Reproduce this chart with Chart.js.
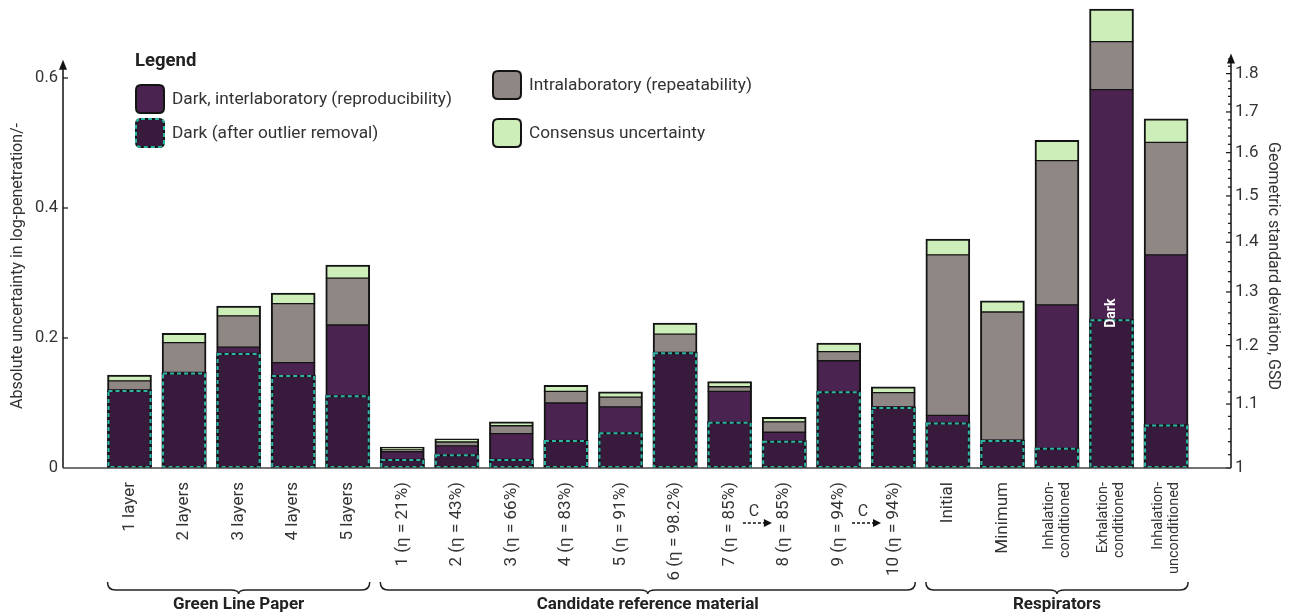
<!DOCTYPE html>
<html>
<head>
<meta charset="utf-8">
<title>Uncertainty components in log-penetration</title>
<script src="https://cdn.jsdelivr.net/npm/chart.js@4.4.1/dist/chart.umd.min.js"></script>
<style>
  html, body { margin: 0; padding: 0; background: #ffffff; overflow: hidden; }
  #wrap { width: 1291px; height: 615px; position: relative; }
</style>
</head>
<body>
<div id="wrap"><canvas id="chart" width="1291" height="615"></canvas></div>
<script>
// ---- categories and groups ----
const categories = [
  '1 layer', '2 layers', '3 layers', '4 layers', '5 layers',
  '1 (η = 21%)', '2 (η = 43%)', '3 (η = 66%)', '4 (η = 83%)', '5 (η = 91%)',
  '6 (η = 98.2%)', '7 (η = 85%)', '8 (η = 85%)', '9 (η = 94%)', '10 (η = 94%)',
  'Initial', 'Minimum',
  ['Inhalation-', 'conditioned'], ['Exhalation-', 'conditioned'], ['Inhalation-', 'unconditioned']
];
const groupNames = ['Green Line Paper', 'Candidate reference material', 'Respirators'];
const groupFirst = [0, 5, 15];
const groupLast = [4, 14, 19];
// conditioning steps: "C" arrow from one sample to the next
const conditionedPairs = [[11, 12], [13, 14]];

// ---- uncertainty components (log-penetration) ----
const darkInterlab   = [0.120, 0.147, 0.186, 0.162, 0.220, 0.025, 0.034, 0.053, 0.100, 0.094,
                        0.178, 0.118, 0.055, 0.165, 0.094, 0.081, 0.043, 0.251, 0.582, 0.328];
const intralab       = [0.014, 0.046, 0.048, 0.091, 0.072, 0.003, 0.006, 0.012, 0.018, 0.015,
                        0.028, 0.007, 0.016, 0.014, 0.022, 0.247, 0.197, 0.222, 0.074, 0.173];
const consensus      = [0.009, 0.014, 0.015, 0.016, 0.020, 0.004, 0.005, 0.006, 0.009, 0.008,
                        0.017, 0.008, 0.007, 0.013, 0.009, 0.024, 0.017, 0.031, 0.050, 0.036];
const darkNoOutliers = [0.120, 0.147, 0.177, 0.143, 0.112, 0.014, 0.021, 0.014, 0.043, 0.055,
                        0.178, 0.071, 0.042, 0.118, 0.094, 0.070, 0.043, 0.031, 0.229, 0.067];

// ---- axis ticks ----
const leftTicks = [0, 0.2, 0.4, 0.6];
const gsdTicks = [1, 1.1, 1.2, 1.3, 1.4, 1.5, 1.6, 1.7, 1.8];
const gsdMinorStep = 0.02;
const gsdMinorMax = 1.84;

// ---- colours ----
const C_DARK = '#4a2350';
const C_DARK_NO = '#381b3c';
const C_INTRA = '#8e8784';
const C_CONS = '#ceeeb9';
const C_TEAL = '#2bb5a2';
const C_EDGE = '#141414';
const C_TEXT = '#333333';

Chart.defaults.font.family = 'Roboto, "Noto Sans", sans-serif';
Chart.defaults.color = C_TEXT;

// floating segments stacked on top of each other
const segDark = darkInterlab.map((v, i) => ({ x: i, y: [0, v] }));
const segIntra = darkInterlab.map((v, i) => ({ x: i, y: [v, v + intralab[i]] }));
const segCons = darkInterlab.map((v, i) => ({ x: i, y: [v + intralab[i], v + intralab[i] + consensus[i]] }));
const segNoOut = darkNoOutliers.map((v, i) => ({ x: i, y: [0, v] }));

const barCommon = { grouped: false, barThickness: 44, borderSkipped: false, borderColor: C_EDGE };

function drawBrace(ctx, x0, x1, yTop, yMid) {
  const xc = (x0 + x1) / 2, r = 8;
  ctx.beginPath();
  ctx.moveTo(x0, yTop);
  ctx.quadraticCurveTo(x0, yMid, x0 + r, yMid);
  ctx.lineTo(xc - r, yMid);
  ctx.quadraticCurveTo(xc, yMid, xc, yMid + 4);
  ctx.quadraticCurveTo(xc, yMid, xc + r, yMid);
  ctx.lineTo(x1 - r, yMid);
  ctx.quadraticCurveTo(x1, yMid, x1, yTop);
  ctx.stroke();
}

function roundRect(ctx, x, y, w, h, r) {
  ctx.beginPath();
  ctx.moveTo(x + r, y);
  ctx.lineTo(x + w - r, y);
  ctx.quadraticCurveTo(x + w, y, x + w, y + r);
  ctx.lineTo(x + w, y + h - r);
  ctx.quadraticCurveTo(x + w, y + h, x + w - r, y + h);
  ctx.lineTo(x + r, y + h);
  ctx.quadraticCurveTo(x, y + h, x, y + h - r);
  ctx.lineTo(x, y + r);
  ctx.quadraticCurveTo(x, y, x + r, y);
  ctx.closePath();
}

function swatch(ctx, x, y, fill, dashed) {
  const w = 28, h = 28;
  roundRect(ctx, x, y, w, h, 5);
  ctx.fillStyle = fill;
  ctx.fill();
  ctx.lineWidth = 2;
  ctx.strokeStyle = C_EDGE;
  ctx.setLineDash([]);
  ctx.stroke();
  if (dashed) {
    ctx.strokeStyle = C_TEAL;
    ctx.setLineDash([4, 3]);
    ctx.stroke();
    ctx.setLineDash([]);
  }
}

function arrowHead(ctx, tipX, tipY, dir, len, half) {
  ctx.beginPath();
  if (dir === 'up') {
    ctx.moveTo(tipX, tipY);
    ctx.lineTo(tipX - half, tipY + len);
    ctx.lineTo(tipX + half, tipY + len);
  } else {
    ctx.moveTo(tipX, tipY);
    ctx.lineTo(tipX - len, tipY - half);
    ctx.lineTo(tipX - len, tipY + half);
  }
  ctx.closePath();
  ctx.fill();
}

// keep the plot area flush with the canvas edges chosen below
function noScalePadding(s) {
  s.paddingTop = 0; s.paddingBottom = 0; s.paddingLeft = 0; s.paddingRight = 0;
}

const decor = {
  id: 'decor',
  afterDatasetsDraw(chart) {
    const ctx = chart.ctx;
    // dashed outline of the outlier-free dark bars
    const meta = chart.getDatasetMeta(0);
    meta.data.forEach((bar) => {
      const p = bar.getProps(['x', 'y', 'base', 'width'], true);
      const left = p.x - p.width / 2;
      const top = Math.min(p.y, p.base), bottom = Math.max(p.y, p.base);
      ctx.save();
      ctx.lineWidth = 2;
      ctx.strokeStyle = C_EDGE;
      ctx.strokeRect(left + 1, top + 1, p.width - 2, bottom - top - 2);
      ctx.strokeStyle = C_TEAL;
      ctx.setLineDash([4, 3]);
      ctx.strokeRect(left + 1, top + 1, p.width - 2, bottom - top - 2);
      ctx.restore();
    });
    // "Dark" tag in the tallest bar
    const tagged = meta.data[18].getProps(['x', 'y'], true);
    ctx.save();
    ctx.translate(tagged.x, tagged.y - 6);
    ctx.rotate(-Math.PI / 2);
    ctx.fillStyle = '#ffffff';
    ctx.font = 'bold 14px Roboto';
    ctx.textAlign = 'center';
    ctx.textBaseline = 'middle';
    ctx.fillText('Dark', 0, 0);
    ctx.restore();
  },
  afterDraw(chart) {
    const ctx = chart.ctx;
    const xs = chart.scales.x, ys = chart.scales.y, gs = chart.scales.y2;
    const area = chart.chartArea;
    const y0 = ys.getPixelForValue(0);
    ctx.save();
    ctx.fillStyle = '#111';
    ctx.strokeStyle = '#111';

    // left axis with arrow
    const lx = area.left;
    const lTop = ys.getPixelForValue(0.628);
    ctx.lineWidth = 1.5;
    ctx.beginPath(); ctx.moveTo(lx, y0); ctx.lineTo(lx, lTop + 6); ctx.stroke();
    arrowHead(ctx, lx, lTop, 'up', 10, 4);
    ctx.lineWidth = 1.2;
    leftTicks.forEach((v) => {
      if (v === 0) return;
      const py = ys.getPixelForValue(v);
      ctx.beginPath(); ctx.moveTo(lx, py); ctx.lineTo(lx + 5, py); ctx.stroke();
    });

    // right GSD axis with arrow, major and minor ticks
    const rx = area.right;
    const rTop = gs.getPixelForValue(Math.log(1.855));
    ctx.lineWidth = 1.5;
    ctx.beginPath(); ctx.moveTo(rx, y0); ctx.lineTo(rx, rTop + 6); ctx.stroke();
    arrowHead(ctx, rx, rTop, 'up', 10, 4);
    ctx.lineWidth = 1.2;
    for (let k = 0; 1 + k * gsdMinorStep <= gsdMinorMax + 1e-9; k++) {
      const g = 1 + k * gsdMinorStep;
      const major = gsdTicks.some((t) => Math.abs(t - g) < 1e-9);
      const py = gs.getPixelForValue(Math.log(g));
      ctx.beginPath(); ctx.moveTo(rx, py); ctx.lineTo(rx - (major ? 5 : 3), py); ctx.stroke();
    }

    // baseline
    ctx.strokeStyle = '#444';
    ctx.lineWidth = 1.5;
    ctx.beginPath(); ctx.moveTo(lx, y0); ctx.lineTo(rx, y0); ctx.stroke();

    // category labels, rotated
    ctx.fillStyle = C_TEXT;
    categories.forEach((lab, i) => {
      const lines = Array.isArray(lab) ? lab : [lab];
      const size = lines.length > 1 ? 14.5 : 17;
      const lh = size * 1.1;
      const px = xs.getPixelForValue(i);
      ctx.save();
      ctx.translate(px, y0 + 14);
      ctx.rotate(-Math.PI / 2);
      ctx.font = size + 'px Roboto';
      ctx.textAlign = 'right';
      ctx.textBaseline = 'middle';
      lines.forEach((ln, k) => ctx.fillText(ln, 0, (k - (lines.length - 1) / 2) * lh));
      ctx.restore();
    });

    // conditioning arrows
    conditionedPairs.forEach(([a, b]) => {
      const mx = (xs.getPixelForValue(a) + xs.getPixelForValue(b)) / 2;
      const ay = 523;
      ctx.strokeStyle = '#111';
      ctx.fillStyle = '#111';
      ctx.lineWidth = 1.5;
      ctx.setLineDash([3, 2]);
      ctx.beginPath(); ctx.moveTo(mx - 14, ay); ctx.lineTo(mx + 8, ay); ctx.stroke();
      ctx.setLineDash([]);
      arrowHead(ctx, mx + 15, ay, 'right', 8, 4);
      ctx.fillStyle = C_TEXT;
      ctx.font = '16px Roboto';
      ctx.textAlign = 'center';
      ctx.textBaseline = 'middle';
      ctx.fillText('C', mx - 3, 512);
    });

    // group braces and names
    ctx.strokeStyle = '#222';
    ctx.lineWidth = 1.5;
    groupNames.forEach((name, g) => {
      const x0 = xs.getPixelForValue(groupFirst[g]) - 22;
      const x1 = xs.getPixelForValue(groupLast[g]) + 22;
      drawBrace(ctx, x0, x1, 582, 590);
      ctx.fillStyle = '#222';
      ctx.font = 'bold 17px Roboto';
      ctx.textAlign = 'center';
      ctx.textBaseline = 'middle';
      ctx.fillText(name, (x0 + x1) / 2, 605);
    });

    // axis titles
    ctx.fillStyle = C_TEXT;
    ctx.font = '16px Roboto';
    ctx.textAlign = 'center';
    ctx.textBaseline = 'middle';
    ctx.save();
    ctx.translate(18, 266);
    ctx.rotate(-Math.PI / 2);
    ctx.fillText('Absolute uncertainty in log-penetration/-', 0, 0);
    ctx.restore();
    ctx.save();
    ctx.translate(1273, 266);
    ctx.rotate(Math.PI / 2);
    ctx.fillText('Geometric standard deviation, GSD', 0, 0);
    ctx.restore();

    // legend
    ctx.fillStyle = '#222';
    ctx.font = 'bold 18.5px Roboto';
    ctx.textAlign = 'left';
    ctx.textBaseline = 'middle';
    ctx.fillText('Legend', 135, 61);
    const items = [
      { x: 136, y: 85, fill: C_DARK, dashed: false, text: 'Dark, interlaboratory (reproducibility)' },
      { x: 136, y: 119, fill: C_DARK_NO, dashed: true, text: 'Dark (after outlier removal)' },
      { x: 493, y: 71, fill: C_INTRA, dashed: false, text: 'Intralaboratory (repeatability)' },
      { x: 493, y: 119, fill: C_CONS, dashed: false, text: 'Consensus uncertainty' }
    ];
    items.forEach((it) => {
      swatch(ctx, it.x, it.y, it.fill, it.dashed);
      ctx.fillStyle = C_TEXT;
      ctx.font = '17.3px Roboto';
      ctx.textAlign = 'left';
      ctx.textBaseline = 'middle';
      ctx.fillText(it.text, it.x + 36, it.y + 14.5);
    });
    ctx.restore();
  }
};

new Chart(document.getElementById('chart'), {
  type: 'bar',
  data: {
    datasets: [
      Object.assign({ label: 'Dark (after outlier removal)', data: segNoOut, backgroundColor: C_DARK_NO, borderWidth: 0 }, barCommon),
      Object.assign({ label: 'Dark, interlaboratory (reproducibility)', data: segDark, backgroundColor: C_DARK,
        borderWidth: { top: 1, bottom: 2, left: 2, right: 2 } }, barCommon),
      Object.assign({ label: 'Intralaboratory (repeatability)', data: segIntra, backgroundColor: C_INTRA,
        borderWidth: { top: 1, bottom: 1, left: 2, right: 2 } }, barCommon),
      Object.assign({ label: 'Consensus uncertainty', data: segCons, backgroundColor: C_CONS,
        borderWidth: { top: 2, bottom: 1, left: 2, right: 2 } }, barCommon)
    ]
  },
  options: {
    responsive: false,
    animation: false,
    devicePixelRatio: 1,
    layout: { padding: 0 },
    plugins: { legend: { display: false }, tooltip: { enabled: false } },
    scales: {
      x: {
        type: 'linear', min: -1.219, max: 20.19, offset: false,
        grid: { display: false, drawTicks: false }, border: { display: false },
        ticks: { display: false },
        afterFit: (s) => { s.height = 147; noScalePadding(s); }
      },
      y: {
        type: 'linear', position: 'left', min: 0, max: 0.72,
        grid: { display: false, drawTicks: false }, border: { display: false },
        afterBuildTicks: (s) => { s.ticks = leftTicks.map((v) => ({ value: v })); },
        ticks: {
          autoSkip: false, padding: 5, color: C_TEXT, font: { size: 16.5 },
          callback: (v) => (v === 0 ? '0' : v.toFixed(1))
        },
        afterFit: (s) => { s.width = 63; noScalePadding(s); }
      },
      y2: {
        type: 'linear', axis: 'y', position: 'right', min: 0, max: 0.6975,
        grid: { display: false, drawTicks: false }, border: { display: false },
        afterBuildTicks: (s) => { s.ticks = gsdTicks.map((g) => ({ value: Math.log(g) })); },
        ticks: {
          autoSkip: false, padding: 4, color: C_TEXT, font: { size: 17 },
          callback: (v, i) => String(gsdTicks[i])
        },
        afterFit: (s) => { s.width = 60; noScalePadding(s); }
      }
    }
  },
  plugins: [decor]
});
</script>
</body>
</html>
